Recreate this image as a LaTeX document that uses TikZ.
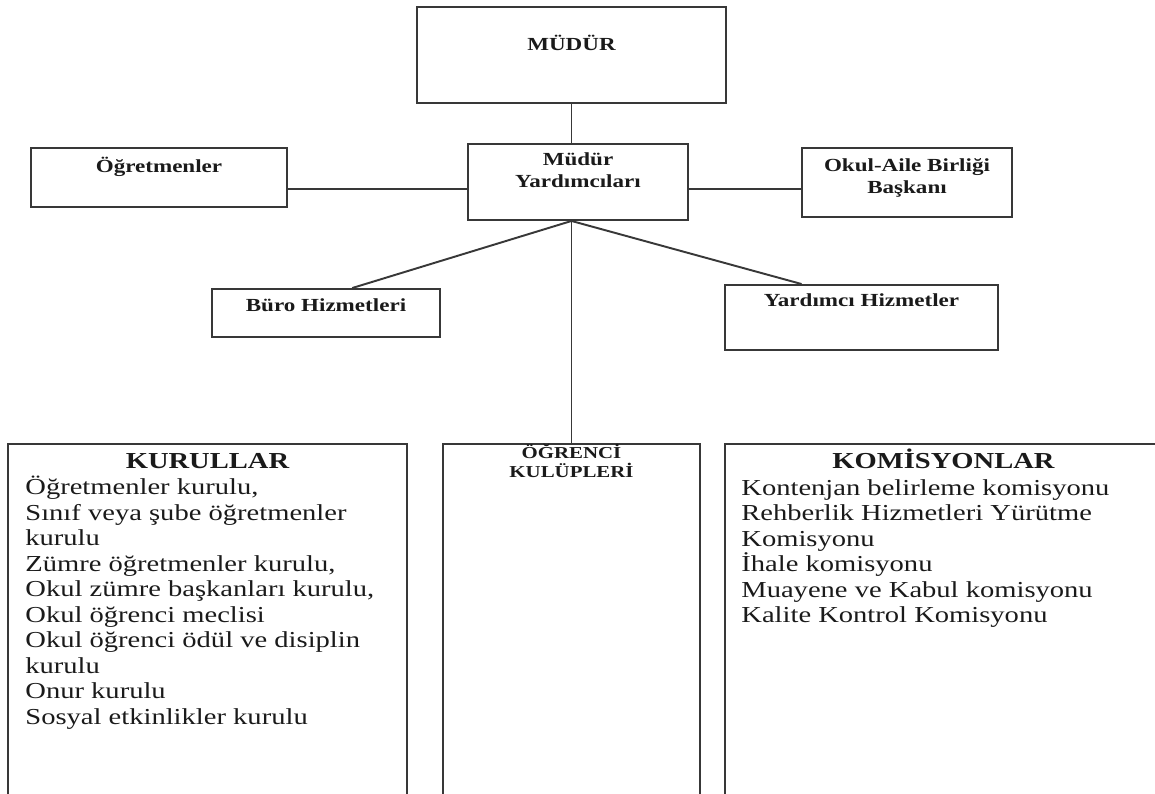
\documentclass[tikz,border=0pt]{standalone}
\usepackage{fontspec}
\setmainfont{Liberation Serif}[FakeStretch=1.25]
\usetikzlibrary{calc}

\definecolor{linegray}{HTML}{383838}
\definecolor{inkblack}{HTML}{1A1A1A}

\begin{document}
\begin{tikzpicture}[
  x=0.2mm, y=-0.2mm,
  box/.style={draw=linegray, line width=1.1pt, inner sep=0pt},
  head/.style={font=\fontsize{10.5}{12}\selectfont\bfseries, text=inkblack,
    align=center, anchor=base, inner sep=0pt},
  clubhead/.style={head, font=\fontsize{9.5}{11.3}\selectfont\bfseries},
  bighead/.style={font=\fontsize{13}{15}\selectfont\bfseries, text=inkblack,
    anchor=base, inner sep=0pt},
  listtext/.style={font=\fontsize{13}{14.5}\selectfont, text=inkblack,
    align=left, anchor=base west, inner sep=0pt},
  link/.style={draw=linegray, line width=1.1pt}
]
\useasboundingbox (0,0) rectangle (1155,794);

% boxes
\node[box, minimum width=61.8mm, minimum height=19.2mm] (mudur) at (571.5,55) {};
\node[box, minimum width=44mm, minimum height=15.2mm] (yard) at (578,182) {};
\node[box, minimum width=51.2mm, minimum height=11.8mm] (ogret) at (159,177.5) {};
\node[box, minimum width=42mm, minimum height=13.8mm] (okul) at (907,182.5) {};
\node[box, minimum width=45.6mm, minimum height=9.6mm] (buro) at (326,313) {};
\node[box, minimum width=54.6mm, minimum height=13mm] (yhiz) at (861.5,317.5) {};
\node[box, minimum width=79.8mm, minimum height=74mm, anchor=north] (kurul) at (207.5,443) {};
\node[box, minimum width=51.4mm, minimum height=74mm, anchor=north] (ogrenci) at (571.5,443) {};
\node[box, minimum width=87.4mm, minimum height=74mm, anchor=north] (komis) at (943.5,443) {};

% texts (multi-line nodes sit on the baseline of their last line)
\node[head] (mudurtext) at ($(mudur.north)+(0,44)$) {MÜDÜR};
\node[head] (yardtext) at ($(yard.north)+(0,44)$) {Müdür\\Yardımcıları};
\node[head] (ogrettext) at ($(ogret.north)+(0,25)$) {Öğretmenler};
\node[head] (okultext) at ($(okul.north)+(0,46)$) {Okul-Aile Birliği\\Başkanı};
\node[head] (burotext) at ($(buro.north)+(0,23)$) {Büro Hizmetleri};
\node[head] (yhiztext) at ($(yhiz.north)+(0,22)$) {Yardımcı Hizmetler};
\node[clubhead] (ogrencitext) at ($(ogrenci.north)+(0,35)$) {ÖĞRENCİ\\KULÜPLERİ};

\node[bighead] (kurulhead) at ($(kurul.north)+(0,26)$) {KURULLAR};
\node[listtext] (kurullist) at ($(kurul.north west)+(18,281)$) {Öğretmenler kurulu,\\
  Sınıf veya şube öğretmenler\\kurulu\\Zümre öğretmenler kurulu,\\
  Okul zümre başkanları kurulu,\\Okul öğrenci meclisi\\
  Okul öğrenci ödül ve disiplin\\kurulu\\Onur kurulu\\Sosyal etkinlikler kurulu};

\node[bighead] (komishead) at ($(komis.north)+(0,26)$) {KOMİSYONLAR};
\node[listtext] (komislist) at ($(komis.north west)+(17,179.5)$) {Kontenjan belirleme komisyonu\\
  Rehberlik Hizmetleri Yürütme\\Komisyonu\\İhale komisyonu\\
  Muayene ve Kabul komisyonu\\Kalite Kontrol Komisyonu};

% connectors
\coordinate (hub) at (mudur.south |- yard.south);
\draw[link] (mudur.south) -- (mudur.south |- yard.north);
\draw[link] ([yshift=-1.4mm]yard.west) -- ([yshift=-1.4mm]yard.west -| ogret.east);
\draw[link] ([yshift=-1.4mm]yard.east) -- ([yshift=-1.4mm]yard.east -| okul.west);
\draw[link] (hub) -- ($(buro.north west)!0.614!(buro.north east)$);
\draw[link] (hub) -- (ogrenci.north);
\draw[link] (hub) -- ($(yhiz.north west)!0.282!(yhiz.north east)$);
\end{tikzpicture}
\end{document}
